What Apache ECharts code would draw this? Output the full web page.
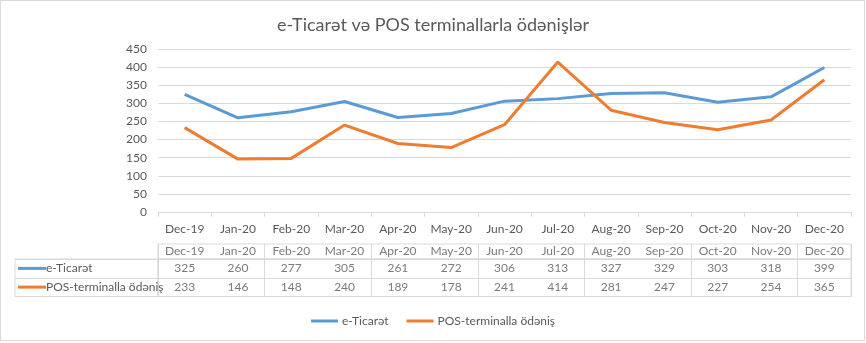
<!DOCTYPE html>
<html><head><meta charset="utf-8">
<script src="https://cdn.jsdelivr.net/npm/echarts@6/dist/echarts.min.js"></script>
<style>html,body{margin:0;padding:0;background:#fff}#c{width:866px;height:343px}</style>
</head><body><div id="c"></div>
<script>
const categories = ['Dec-19','Jan-20','Feb-20','Mar-20','Apr-20','May-20','Jun-20','Jul-20','Aug-20','Sep-20','Oct-20','Nov-20','Dec-20'];
const seriesNames = ['e-Ticarət','POS-terminalla ödəniş'];
const eTicaret = [325,260,277,305,261,272,306,313,327,329,303,318,399];
const posTerminal = [233,146,148,240,189,178,241,414,281,247,227,254,365];
const yTicks = {min:0, max:450, interval:50};
const colors = ['#5B9BD5','#ED7D31'];

const FONT = "Lato,'Liberation Sans','Noto Sans',sans-serif";
const TXT = '#595959';
const BORDER = '#d9d9d9';

const chart = echarts.init(document.getElementById('c'), null, {renderer:'canvas'});

const cellLabel = {show:true, position:'inside', color:TXT, fontSize:12, fontFamily:FONT,
  formatter: p => String(p.value[2])};

function tableAxisX(idx){
  return {type:'category', gridIndex:idx, data:categories, boundaryGap:true,
    axisLine:{show:false}, axisTick:{show:false}, axisLabel:{show:false},
    splitLine:{show:true, lineStyle:{color:BORDER, width:1}}};
}

const option = {
  animation:false,
  textStyle:{fontFamily:FONT},
  title:{text:'e-Ticarət və POS terminallarla ödənişlər', left:'center', top:11,
    textStyle:{fontSize:18, fontWeight:'normal', color:TXT, fontFamily:FONT}},
  legend:{data:seriesNames.map(n=>({name:n, icon:'rect'})), bottom:11, left:'center', itemWidth:27, itemHeight:3, itemGap:18,
    textStyle:{color:TXT, fontSize:12, fontFamily:FONT, padding:[0,0,0,-1]}},
  graphic:[{type:'rect', shape:{x:0.5, y:0.5, width:864, height:340}, style:{fill:null, stroke:BORDER, lineWidth:1}, silent:true}],
  grid:[
    {left:158, right:15, top:49, height:163},
    {left:158, right:15, top:244, height:15, show:true, borderColor:BORDER, borderWidth:1},
    {left:158, right:15, top:259, height:37.5, show:true, borderColor:BORDER, borderWidth:1},
    {left:15, width:143, top:259, height:37.5, show:true, borderColor:BORDER, borderWidth:1}
  ],
  xAxis:[
    {type:'category', gridIndex:0, data:categories, boundaryGap:true,
      axisLine:{show:true, lineStyle:{color:BORDER}},
      axisTick:{show:true, length:5, lineStyle:{color:BORDER}},
      axisLabel:{color:TXT, fontSize:12, margin:11, interval:0, fontFamily:FONT}},
    tableAxisX(1),
    tableAxisX(2),
    {type:'category', gridIndex:3, data:['k'], show:false}
  ],
  yAxis:[
    {type:'value', gridIndex:0, min:yTicks.min, max:yTicks.max, interval:yTicks.interval,
      axisLine:{show:false}, axisTick:{show:false},
      axisLabel:{color:TXT, fontSize:12, margin:11, fontFamily:FONT},
      splitLine:{lineStyle:{color:BORDER}}},
    {type:'category', gridIndex:1, data:['h'], show:false},
    {type:'category', gridIndex:2, data:seriesNames, inverse:true,
      axisLine:{show:false}, axisTick:{show:false}, axisLabel:{show:false},
      splitLine:{show:true, lineStyle:{color:BORDER}}},
    {type:'category', gridIndex:3, data:seriesNames, inverse:true,
      axisLine:{show:false}, axisTick:{show:false}, axisLabel:{show:false},
      splitLine:{show:true, lineStyle:{color:BORDER}}}
  ],
  series:[
    {name:seriesNames[0], type:'line', xAxisIndex:0, yAxisIndex:0, data:eTicaret,
      symbol:'none', lineStyle:{width:3, color:colors[0]}, itemStyle:{color:colors[0]}},
    {name:seriesNames[1], type:'line', xAxisIndex:0, yAxisIndex:0, data:posTerminal,
      symbol:'none', lineStyle:{width:3, color:colors[1]}, itemStyle:{color:colors[1]}},
    {type:'scatter', xAxisIndex:1, yAxisIndex:1, symbolSize:1, itemStyle:{color:'rgba(0,0,0,0)'},
      data:categories.map(c=>[c,'h',c]), label:cellLabel, silent:true},
    {type:'scatter', xAxisIndex:2, yAxisIndex:2, symbolSize:1, itemStyle:{color:'rgba(0,0,0,0)'},
      data:categories.map((c,i)=>[c,seriesNames[0],eTicaret[i]]), label:cellLabel, silent:true},
    {type:'scatter', xAxisIndex:2, yAxisIndex:2, symbolSize:1, itemStyle:{color:'rgba(0,0,0,0)'},
      data:categories.map((c,i)=>[c,seriesNames[1],posTerminal[i]]), label:cellLabel, silent:true},
    {type:'custom', xAxisIndex:3, yAxisIndex:3, silent:true,
      data:seriesNames.map((n,i)=>[0,i]),
      renderItem:function(params, api){
        const row = api.value(1);
        const pt = api.coord([0,row]);
        const sz = api.size([1,1]);
        const x0 = pt[0]-sz[0]/2+3;
        return {type:'group', children:[
          {type:'rect', shape:{x:x0, y:pt[1]-1.5, width:28, height:3}, style:{fill:colors[row]}},
          {type:'text', style:{x:x0+28, y:pt[1], text:seriesNames[row], fill:TXT, fontSize:12,
            fontFamily:FONT, verticalAlign:'middle', align:'left'}}
        ]};
      }}
  ]
};
chart.setOption(option);
</script></body></html>
